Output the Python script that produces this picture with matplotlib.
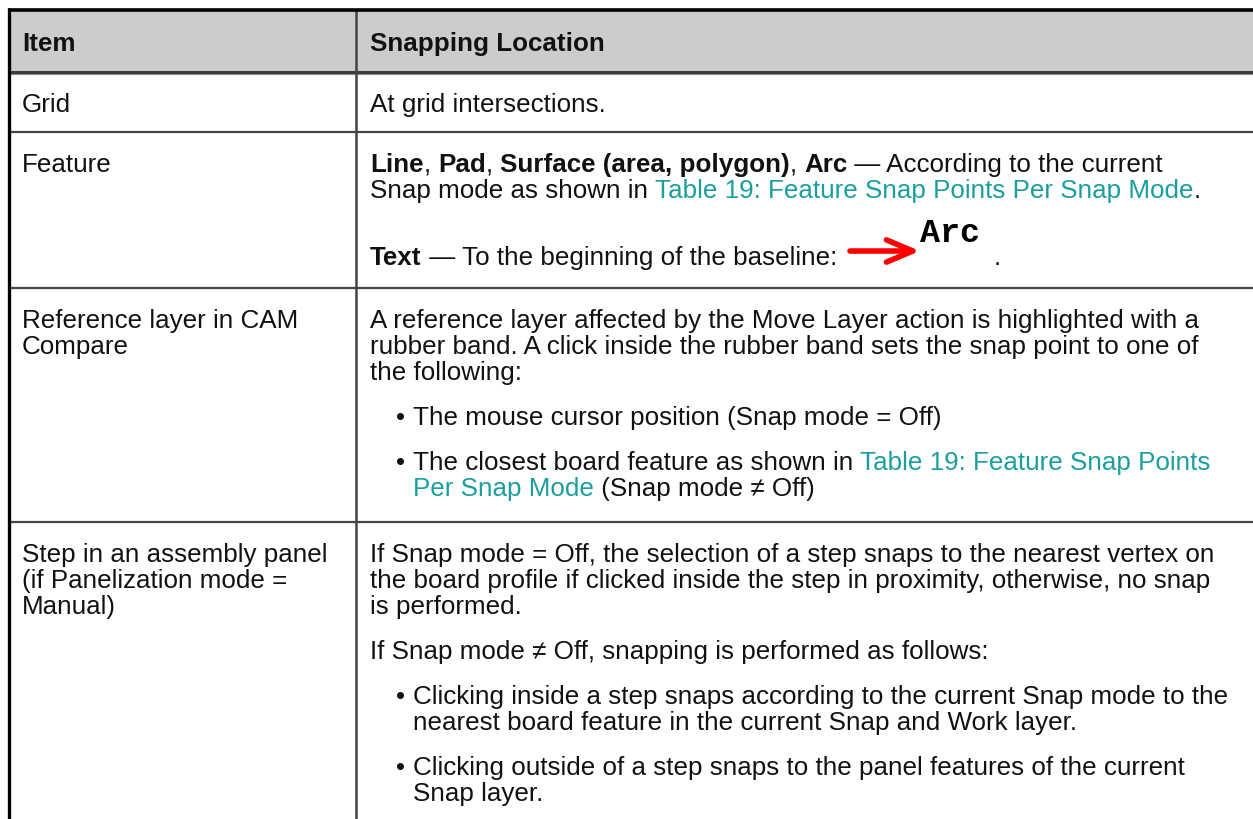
import matplotlib
matplotlib.use("Agg")
import matplotlib.pyplot as plt

# table content (pre-wrapped the way the reference wraps it)
# run styles: n = normal, b = bold, l = link
header = ["Item", "Snapping Location"]

items = [
    ["Grid"],
    ["Feature"],
    ["Reference layer in CAM", "Compare"],
    ["Step in an assembly panel", "(if Panelization mode =", "Manual)"],
]

# each paragraph: (kind, lines); each line is a list of (text, style)
grid_desc = [
    ("p", [[("At grid intersections.", "n")]]),
]
feature_desc = [
    ("p", [[("Line", "b"), (", ", "n"), ("Pad", "b"), (", ", "n"),
            ("Surface (area, polygon)", "b"), (", ", "n"), ("Arc", "b"),
            (" \u2014 According to the current", "n")],
           [("Snap mode as shown in ", "n"),
            ("Table 19: Feature Snap Points Per Snap Mode", "l"), (".", "n")]]),
    ("img", [[("Text", "b"), (" \u2014 To the beginning of the baseline: ", "n"),
              ("<arc>", "img"), (".", "n")]]),
]
reference_desc = [
    ("p", [[("A reference layer affected by the Move Layer action is highlighted with a", "n")],
           [("rubber band. A click inside the rubber band sets the snap point to one of", "n")],
           [("the following:", "n")]]),
    ("bullet", [[("The mouse cursor position (Snap mode = Off)", "n")]]),
    ("bullet", [[("The closest board feature as shown in ", "n"),
                 ("Table 19: Feature Snap Points", "l")],
                [("Per Snap Mode", "l"), (" (Snap mode \u2260 Off)", "n")]]),
]
step_desc = [
    ("p", [[("If Snap mode = Off, the selection of a step snaps to the nearest vertex on", "n")],
           [("the board profile if clicked inside the step in proximity, otherwise, no snap", "n")],
           [("is performed.", "n")]]),
    ("p", [[("If Snap mode \u2260 Off, snapping is performed as follows:", "n")]]),
    ("bullet", [[("Clicking inside a step snaps according to the current Snap mode to the", "n")],
                [("nearest board feature in the current Snap and Work layer.", "n")]]),
    ("bullet", [[("Clicking outside of a step snaps to the panel features of the current", "n")],
                [("Snap layer.", "n")]]),
]
descriptions = [grid_desc, feature_desc, reference_desc, step_desc]

# layout
W, H = 1253, 819
FONT = ["Liberation Sans", "DejaVu Sans"]
FS = 18.7
LINK = "#1a9e9e"
row_tops = [72, 132, 288, 522]
col_x = 356
left_x, right_x, bullet_x, bullet_text_x = 22, 370, 396, 413
line_h, para_gap = 26, 19

fig = plt.figure(figsize=(W / 100, H / 100), dpi=100)
ax = fig.add_axes([0, 0, 1, 1])
ax.set_xlim(0, W)
ax.set_ylim(H, 0)
ax.axis("off")
renderer = fig.canvas.get_renderer()


def style_kw(style):
    kw = dict(family=FONT, fontsize=FS, color="#111111")
    if style == "b":
        kw["weight"] = "bold"
    if style == "l":
        kw["color"] = LINK
    return kw


def width_of(s, kw):
    # measure with a trailing bar so that trailing spaces count
    t1 = ax.text(0, 0, s + "|", **kw)
    t2 = ax.text(0, 0, "|", **kw)
    w = t1.get_window_extent(renderer).width - t2.get_window_extent(renderer).width
    t1.remove()
    t2.remove()
    return w


def draw_arc_image(x, y):
    # small picture: red arrow pointing to the word "Arc"
    ax.annotate("", xy=(x + 76, y - 14), xytext=(x + 6, y - 14),
                arrowprops=dict(arrowstyle="->,head_length=1.9,head_width=0.8",
                                color="#ff0000", lw=4, shrinkA=0, shrinkB=0))
    ax.text(x + 76, y - 23, "Arc", family="Liberation Mono", weight="bold",
            fontsize=24, color="black", va="baseline")
    return 150


def draw_line(x, y, runs):
    for text, style in runs:
        if style == "img":
            x += draw_arc_image(x, y)
            continue
        kw = style_kw(style)
        ax.text(x, y, text, va="baseline", **kw)
        x += width_of(text, kw)


# header background and text
ax.fill_between([9, W], 10, 72, color="#cccccc", lw=0)
ax.text(left_x, 51, header[0], va="baseline", **style_kw("b"))
ax.text(right_x, 51, header[1], va="baseline", **style_kw("b"))

for top, left_lines, desc in zip(row_tops, items, descriptions):
    y = top + 40
    for i, s in enumerate(left_lines):
        ax.text(left_x, y + i * line_h, s, va="baseline", **style_kw("n"))
    for k, (kind, lines) in enumerate(desc):
        if k > 0:
            y += line_h + para_gap
        if kind == "img":
            y += 22
        for j, runs in enumerate(lines):
            if j > 0:
                y += line_h
            if kind == "bullet":
                if j == 0:
                    ax.text(bullet_x, y, "\u2022", va="baseline", **style_kw("n"))
                draw_line(bullet_text_x, y, runs)
            else:
                draw_line(right_x, y, runs)

# grid lines
line_col = "#444444"
for top in row_tops[1:]:
    ax.plot([9, W], [top, top], color=line_col, lw=1.6, solid_capstyle="butt")
ax.plot([9, W], [71.5, 71.5], color="#3a3a3a", lw=2.2, solid_capstyle="butt")
ax.plot([9, W], [73.7, 73.7], color="#8a8a8a", lw=0.8, solid_capstyle="butt")
ax.plot([col_x, col_x], [10, H], color=line_col, lw=1.8, solid_capstyle="butt")
ax.plot([7.5, W], [9.5, 9.5], color="black", lw=2.6, solid_capstyle="butt")
ax.plot([9, 9], [8, H], color="black", lw=2.4, solid_capstyle="butt")

fig.savefig("out.png", dpi=100, facecolor="white")
